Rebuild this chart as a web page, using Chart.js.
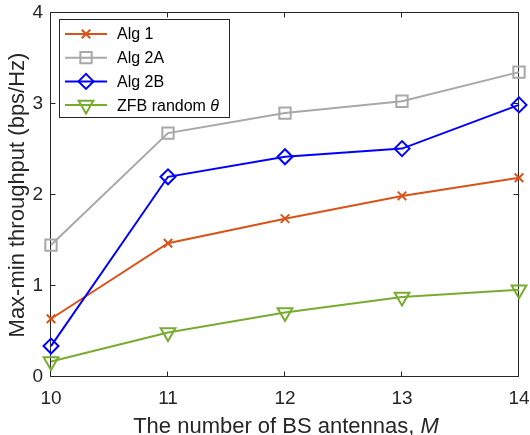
<!DOCTYPE html>
<html><head><meta charset="utf-8">
<script src="https://cdn.jsdelivr.net/npm/chart.js@4/dist/chart.umd.min.js"></script>
<style>html,body{margin:0;padding:0;background:#fff}#wrap{width:530px;height:435px}</style>
</head><body><div id="wrap"><canvas id="c" width="530" height="435"></canvas></div>
<script>
// ---- data ----
const antennas   = ['10', '11', '12', '13', '14'];
const alg1       = [0.64, 1.47, 1.74, 1.99, 2.19];
const alg2A      = [1.45, 2.68, 2.90, 3.03, 3.35];
const alg2B      = [0.34, 2.20, 2.42, 2.51, 2.99];
const zfbRandom  = [0.17, 0.49, 0.71, 0.88, 0.96];
const seriesNames = ['Alg 1', 'Alg 2A', 'Alg 2B', 'ZFB random '];
const seriesNameItalicTail = ['', '', '', 'θ'];
const yTickValues = [0, 1, 2, 3, 4];
const xTitleMain = 'The number of BS antennas, ';
const xTitleItalic = 'M';
const yTitle = 'Max-min throughput (bps/Hz)';

const FONT = '"Liberation Sans", Arial, Helvetica, sans-serif';
const AXIS_COLOR = '#262626';

function ds(label, data, color, style, radius, rotation, order) {
  return {
    label, data, order,
    borderColor: color, backgroundColor: color,
    borderWidth: 2, tension: 0,
    pointStyle: style, pointRadius: radius, pointHoverRadius: radius,
    pointRotation: rotation || 0,
    pointBorderColor: color, pointBackgroundColor: 'rgba(0,0,0,0)',
    pointBorderWidth: 2, clip: false
  };
}

function drawMarker(ctx, opts, x, y) {
  if (Chart.helpers && Chart.helpers.drawPoint) {
    Chart.helpers.drawPoint(ctx, opts, x, y);
    return;
  }
  const r = opts.radius;
  ctx.beginPath();
  if (opts.pointStyle === 'crossRot') {
    const d = r * Math.SQRT1_2;
    ctx.moveTo(x - d, y - d); ctx.lineTo(x + d, y + d);
    ctx.moveTo(x + d, y - d); ctx.lineTo(x - d, y + d);
  } else if (opts.pointStyle === 'rect') {
    const s = r * Math.SQRT1_2;
    ctx.rect(x - s, y - s, 2 * s, 2 * s);
  } else if (opts.pointStyle === 'rectRot') {
    ctx.moveTo(x - r, y); ctx.lineTo(x, y - r); ctx.lineTo(x + r, y); ctx.lineTo(x, y + r); ctx.closePath();
  } else if (opts.pointStyle === 'triangle') {
    let a = (opts.rotation || 0) * Math.PI / 180;
    ctx.moveTo(x + Math.sin(a) * r, y - Math.cos(a) * r);
    a += 2 * Math.PI / 3; ctx.lineTo(x + Math.sin(a) * r, y - Math.cos(a) * r);
    a += 2 * Math.PI / 3; ctx.lineTo(x + Math.sin(a) * r, y - Math.cos(a) * r);
    ctx.closePath();
  }
  ctx.stroke();
}

const framePlugin = {
  id: 'frame',
  beforeDatasetsDraw(chart) {
    const {ctx, chartArea: a, scales} = chart;
    ctx.save();
    ctx.strokeStyle = AXIS_COLOR;
    ctx.lineWidth = 1;
    const L = Math.round(a.left) - 0.5, R = Math.round(a.right) - 0.5;
    const T = Math.round(a.top) - 0.5, B = Math.round(a.bottom) - 0.5;
    ctx.beginPath();
    ctx.rect(L, T, R - L, B - T);
    const tl = 5;
    scales.x.ticks.forEach((t, i) => {
      const px = Math.round(scales.x.getPixelForTick(i)) - 0.5;
      ctx.moveTo(px, B); ctx.lineTo(px, B - tl);
      ctx.moveTo(px, T); ctx.lineTo(px, T + tl);
    });
    scales.y.ticks.forEach((t) => {
      const py = Math.round(scales.y.getPixelForValue(t.value)) - 0.5;
      ctx.moveTo(L, py); ctx.lineTo(L + tl, py);
      ctx.moveTo(R, py); ctx.lineTo(R - tl, py);
    });
    ctx.stroke();
    ctx.restore();
  },
  afterDraw(chart) {
    const {ctx, chartArea: a, scales} = chart;
    ctx.save();
    // x-axis title with italic symbol
    ctx.fillStyle = AXIS_COLOR;
    ctx.textBaseline = 'alphabetic';
    const fN = '22px ' + FONT, fI = 'italic 22px ' + FONT;
    ctx.font = fN; const w1 = ctx.measureText(xTitleMain).width;
    ctx.font = fI; const w2 = ctx.measureText(xTitleItalic).width;
    const cx = (a.left + a.right) / 2 + 1;
    const ty = scales.x.bottom - 2;
    let x0 = cx - (w1 + w2) / 2;
    ctx.font = fN; ctx.textAlign = 'left'; ctx.fillText(xTitleMain, x0, ty);
    ctx.font = fI; ctx.fillText(xTitleItalic, x0 + w1, ty);

    // legend inside the axes
    const lx = a.left + 9, ly = a.top + 7;
    const rowH = 23.7, first = 14, lineLen = 42, textGap = 10;
    const lf = '16px ' + FONT, lfi = 'italic 16px ' + FONT;
    let maxW = 0;
    chart.data.datasets.forEach((d, i) => {
      ctx.font = lf; let w = ctx.measureText(seriesNames[i]).width;
      ctx.font = lfi; w += ctx.measureText(seriesNameItalicTail[i]).width;
      maxW = Math.max(maxW, w);
    });
    const boxW = 5 + lineLen + textGap + maxW + 11;
    const boxH = first + rowH * (chart.data.datasets.length - 1) + 13;
    ctx.fillStyle = '#ffffff';
    ctx.fillRect(Math.round(lx) - 0.5, Math.round(ly) - 0.5, Math.round(boxW), Math.round(boxH));
    ctx.strokeStyle = AXIS_COLOR; ctx.lineWidth = 1;
    ctx.strokeRect(Math.round(lx) - 0.5, Math.round(ly) - 0.5, Math.round(boxW), Math.round(boxH));
    chart.data.datasets.forEach((d, i) => {
      const yy = ly + first + rowH * i;
      const x1 = lx + 5, x2 = x1 + lineLen;
      ctx.strokeStyle = d.borderColor; ctx.lineWidth = d.borderWidth;
      ctx.beginPath(); ctx.moveTo(x1, yy); ctx.lineTo(x2, yy); ctx.stroke();
      ctx.fillStyle = 'rgba(0,0,0,0)';
      ctx.lineWidth = d.pointBorderWidth;
      drawMarker(ctx, {pointStyle: d.pointStyle, radius: d.pointRadius, rotation: d.pointRotation, borderWidth: d.pointBorderWidth}, (x1 + x2) / 2, yy);
      ctx.fillStyle = '#000000';
      ctx.textBaseline = 'middle'; ctx.textAlign = 'left';
      ctx.font = lf;
      const tx = x2 + textGap;
      ctx.fillText(seriesNames[i], tx, yy + 1);
      if (seriesNameItalicTail[i]) {
        const w = ctx.measureText(seriesNames[i]).width;
        ctx.font = lfi;
        ctx.fillText(seriesNameItalicTail[i], tx + w, yy + 1);
      }
    });
    ctx.restore();
  }
};

new Chart(document.getElementById('c'), {
  type: 'line',
  data: {
    labels: antennas,
    datasets: [
      ds(seriesNames[0], alg1, '#D95319', 'crossRot', 6, 0, 4),
      ds(seriesNames[1], alg2A, '#A8A8A8', 'rect', 8, 0, 3),
      ds(seriesNames[2], alg2B, '#0000FF', 'rectRot', 7.5, 0, 2),
      ds(seriesNames[3] + seriesNameItalicTail[3], zfbRandom, '#77AC30', 'triangle', 8.5, 180, 1)
    ]
  },
  options: {
    responsive: false, animation: false, devicePixelRatio: 1,
    layout: {padding: {top: 13, right: 11, left: 0, bottom: 0}},
    plugins: {legend: {display: false}, tooltip: {enabled: false}, title: {display: false}},
    scales: {
      x: {
        type: 'category', offset: false,
        grid: {display: false, drawTicks: false},
        border: {display: false},
        ticks: {color: AXIS_COLOR, font: {family: FONT, size: 19}, padding: 10, maxRotation: 0, autoSkip: false},
        title: {display: false},
        afterFit(s) { s.height = 58; s.paddingLeft = 0; s.paddingRight = 0; }
      },
      y: {
        min: 0, max: 4,
        afterBuildTicks(s) { s.ticks = yTickValues.map(v => ({value: v})); },
        grid: {display: false, drawTicks: false},
        border: {display: false},
        ticks: {color: AXIS_COLOR, font: {family: FONT, size: 19}, padding: 8},
        title: {display: true, text: yTitle, color: AXIS_COLOR, font: {family: FONT, size: 22}, padding: {top: 5, bottom: 0}},
        afterFit(s) { s.width = 51; s.paddingTop = 0; s.paddingBottom = 0; }
      }
    }
  },
  plugins: [framePlugin]
});
</script>
</body></html>
